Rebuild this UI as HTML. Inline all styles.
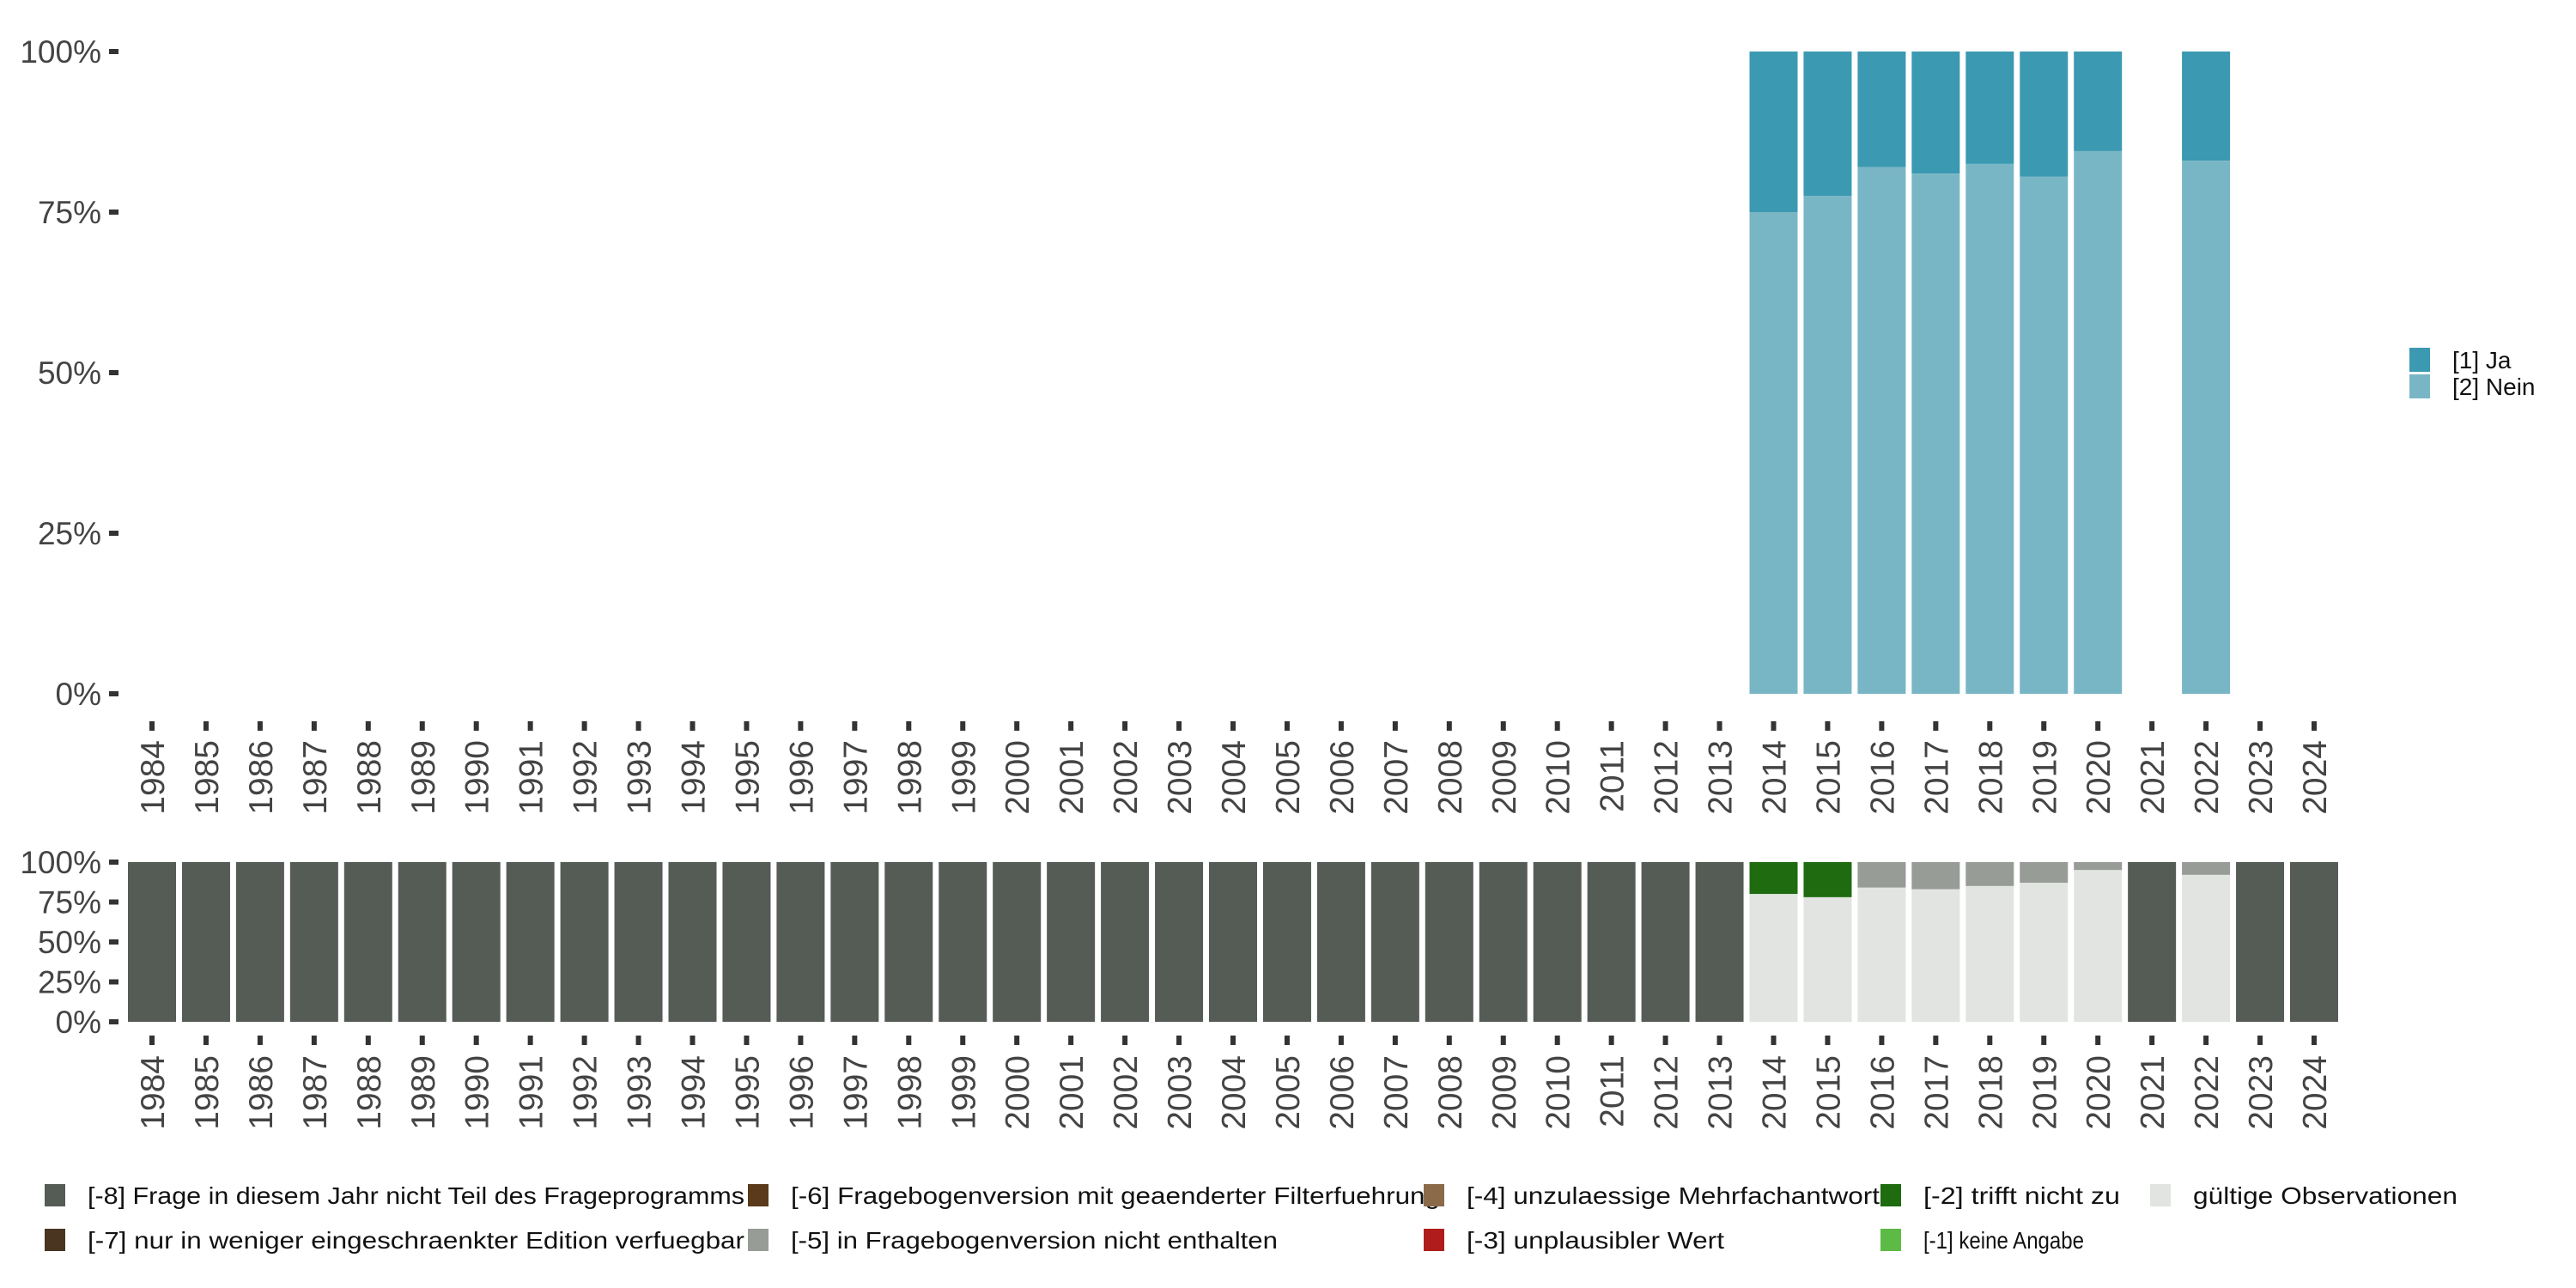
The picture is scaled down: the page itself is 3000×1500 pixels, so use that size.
<!DOCTYPE html>
<html><head><meta charset="utf-8"><style>
html,body{margin:0;padding:0;background:#fff}
svg{display:block}
text{font-family:"Liberation Sans",sans-serif}
</style></head><body>
<svg id="c" width="3000" height="1500" viewBox="0 0 3000 1500" xmlns="http://www.w3.org/2000/svg"></svg>
<script>
const years=[];for(let y=1984;y<=2024;y++)years.push(y);
const topYears=[2014,2015,2016,2017,2018,2019,2020,2022];
const neinPct=[75,77.5,82,81,82.5,80.5,84.5,83];
const botYears=[2014,2015,2016,2017,2018,2019,2020,2022];
const validPct=[80,78,84,83,85,87,95,92];
const missCode=["[-2]","[-2]","[-5]","[-5]","[-5]","[-5]","[-5]","[-5]"];
const yTicks=[0,25,50,75,100];
const legendItems=["[-8] Frage in diesem Jahr nicht Teil des Frageprogramms","[-7] nur in weniger eingeschraenkter Edition verfuegbar","[-6] Fragebogenversion mit geaenderter Filterfuehrung","[-5] in Fragebogenversion nicht enthalten","[-4] unzulaessige Mehrfachantwort","[-3] unplausibler Wert","[-2] trifft nicht zu","[-1] keine Angabe","gültige Observationen"];
const legendColors=["#555b55","#4a3520","#5a3a1a","#979c96","#8b6a4a","#b01c1c","#1e6b10","#5dbb45","#e1e4e1"];
const legendW=[765,765,756,567,481,300,229,187,308];
const codeColor={"[-2]":"#1e6b10","[-5]":"#979c96"};
const svg=document.getElementById('c');const NS="http://www.w3.org/2000/svg";
function el(t,a,p){const e=document.createElementNS(NS,t);for(const k in a)e.setAttribute(k,a[k]);(p||svg).appendChild(e);return e;}
const x0=177,pitch=(2695-177)/40,bw=56;
const xc=y=>x0+(y-1984)*pitch;
function yScale(top,bot){return v=>bot-(bot-top)*v/100;}
const yT=yScale(60,808),yB=yScale(1004,1190);
function axes(ys,tickY,labY,name){
  yTicks.forEach(t=>{
    const tk=el('rect',{x:127,y:ys(t)-3,width:11,height:6,fill:'#333'});
    
    const tx=el('text',{x:118,y:ys(t)+13,'text-anchor':'end','font-size':37,fill:'#444'});tx.textContent=t+'%';
    
  });
  years.forEach(y=>{
    const tk=el('rect',{x:xc(y)-3,y:tickY,width:6,height:11,fill:'#333'});
    
    const tx=el('text',{x:0,y:0,'text-anchor':'end','font-size':39,fill:'#444',transform:`translate(${xc(y)+14},${labY}) rotate(-90)`});tx.textContent=y;
    
  });
}
axes(yT,840,862,'top');axes(yB,1206,1229,'bottom');
topYears.forEach((y,i)=>{
  const n=neinPct[i];
  const a=el('rect',{x:xc(y)-bw/2,y:yT(100),width:bw,height:yT(n)-yT(100),fill:'#3b99b1'});
  
  const b=el('rect',{x:xc(y)-bw/2,y:yT(n),width:bw,height:yT(0)-yT(n),fill:'#79b6c5'});
  
});
years.forEach(y=>{
  const i=botYears.indexOf(y);
  if(i<0){const r=el('rect',{x:xc(y)-bw/2,y:yB(100),width:bw,height:yB(0)-yB(100),fill:'#555b55'});
    return;}
  const v=validPct[i];
  const a=el('rect',{x:xc(y)-bw/2,y:yB(100),width:bw,height:yB(v)-yB(100),fill:codeColor[missCode[i]]});
  
  const b=el('rect',{x:xc(y)-bw/2,y:yB(v),width:bw,height:yB(0)-yB(v),fill:'#e1e4e1'});
  
});
[["[1] Ja","#3b99b1",419],["[2] Nein","#79b6c5",450]].forEach(([t,c,yy])=>{
  const r=el('rect',{x:2806,y:yy-14,width:24,height:28,fill:c});
  
  const tx=el('text',{x:2856,y:yy+10,'font-size':28,fill:'#111'});tx.textContent=t;
  
});
const colX=[52,871,1658,2190,2504],rowY=[1392,1444];
legendItems.forEach((t,i)=>{
  const col=Math.floor(i/2),row=i%2,x=colX[col],yy=rowY[row];
  const r=el('rect',{x:x,y:yy-13,width:24,height:26,fill:legendColors[i]});
  
  const tx=el('text',{x:x+50,y:yy+10,'font-size':28,fill:'#111',textLength:legendW[i],lengthAdjust:'spacingAndGlyphs'});tx.textContent=t;
  
});
</script>
</body></html>
